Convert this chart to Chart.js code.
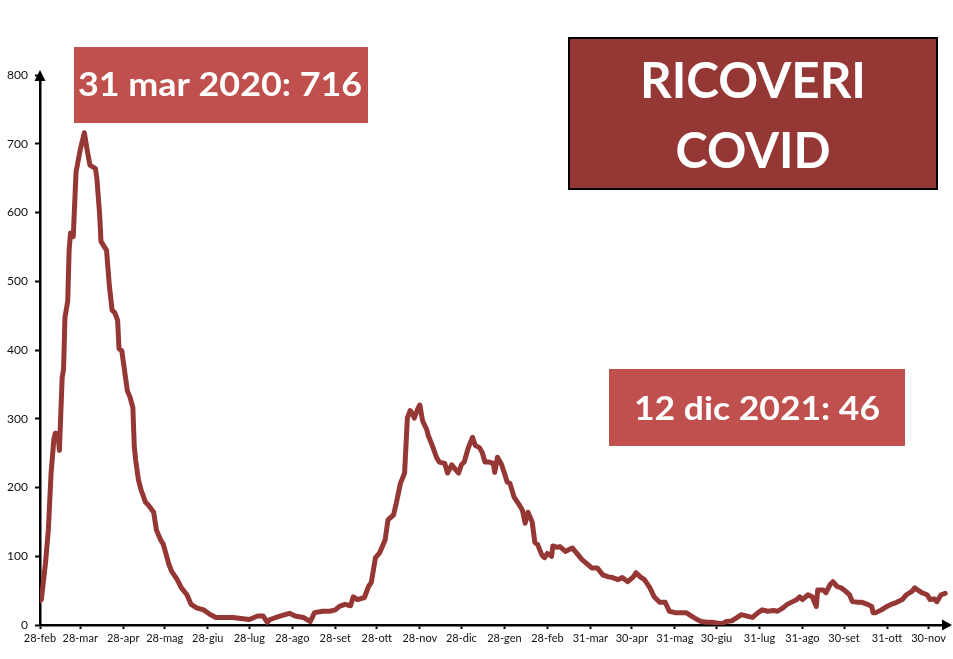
<!DOCTYPE html>
<html lang="it">
<head>
<meta charset="utf-8">
<title>Ricoveri COVID</title>
<script src="https://cdn.jsdelivr.net/npm/chart.js@4.4.0/dist/chart.umd.min.js"></script>
<style>
    html, body { margin: 0; padding: 0; background: #ffffff; }
    #ricoveriChart { display: block; }
</style>
</head>
<body>
<canvas id="ricoveriChart" width="953" height="659"></canvas>
<script>
// giorni dal 28 feb 2020
const giorni = [
    0, 1, 4, 6, 8, 10, 11, 13, 14, 16,
    17, 18, 20, 21, 22, 24, 26, 29, 32, 34,
    36, 40, 41, 43, 44, 48, 50, 52, 54, 56,
    57, 59, 63, 65, 67, 68, 69, 71, 73, 76,
    78, 82, 84, 87, 89, 93, 95, 99, 102, 106,
    109, 113, 118, 123, 127, 130, 139, 151, 157, 161,
    164, 166, 173, 180, 184, 190, 195, 198, 204, 209,
    213, 216, 220, 224, 226, 229, 234, 237, 239, 242,
    245, 249, 251, 255, 257, 260, 263, 265, 267, 269,
    270, 272, 274, 276, 279, 280, 283, 286, 288, 292,
    294, 297, 299, 302, 304, 306, 309, 312, 314, 317,
    319, 321, 324, 327, 328, 330, 333, 335, 337, 339,
    342, 345, 348, 350, 352, 355, 357, 359, 362, 364,
    366, 369, 370, 373, 375, 379, 381, 384, 387, 391,
    394, 398, 402, 404, 406, 410, 413, 417, 420, 424,
    428, 430, 433, 436, 440, 443, 447, 451, 454, 458,
    463, 466, 470, 474, 477, 481, 485, 488, 492, 495,
    499, 503, 506, 510, 514, 518, 521, 525, 529, 532,
    536, 539, 543, 546, 548, 550, 554, 557, 560, 561,
    565, 567, 570, 572, 575, 578, 580, 584, 586, 590,
    593, 597, 600, 601, 603, 607, 611, 614, 618, 622,
    625, 629, 631, 633, 636, 640, 642, 645, 647, 650,
    653
];

const ricoveri = [
    35, 37, 91, 138, 221, 270, 279, 278, 254, 360,
    372, 447, 471, 545, 570, 565, 659, 691, 716, 691,
    669, 664, 650, 598, 558, 545, 494, 458, 454, 443,
    402, 399, 341, 331, 316, 260, 240, 211, 196, 179,
    175, 164, 138, 124, 117, 88, 78, 66, 54, 44,
    30, 25, 22, 15, 11, 11, 11, 8, 13, 13,
    4, 8, 13, 17, 13, 11, 5, 18, 20, 20,
    22, 27, 30, 28, 41, 37, 40, 56, 62, 98,
    105, 124, 153, 160, 177, 206, 221, 301, 312, 306,
    301, 312, 320, 297, 284, 276, 261, 244, 237, 235,
    221, 233, 228, 221, 233, 237, 258, 273, 261, 258,
    251, 237, 237, 235, 222, 244, 233, 221, 208, 206,
    186, 177, 167, 148, 164, 150, 120, 117, 102, 98,
    104, 100, 115, 113, 114, 107, 109, 112, 105, 95,
    90, 83, 83, 78, 73, 70, 69, 66, 69, 63,
    70, 76, 70, 66, 54, 41, 33, 33, 20, 18,
    18, 18, 13, 8, 5, 4, 4, 3, 2, 5,
    6, 11, 15, 13, 11, 18, 22, 20, 21, 20,
    25, 30, 34, 37, 41, 37, 44, 41, 27, 51,
    51, 47, 59, 63, 56, 54, 51, 44, 34, 33,
    33, 30, 27, 18, 18, 22, 27, 30, 33, 37,
    44, 49, 54, 51, 47, 44, 37, 38, 34, 44,
    46
];

const tickDate = [
    '2020-02-28', '2020-03-28', '2020-04-28', '2020-05-28', '2020-06-28', '2020-07-28',
    '2020-08-28', '2020-09-28', '2020-10-28', '2020-11-28', '2020-12-28', '2021-01-28',
    '2021-02-28', '2021-03-31', '2021-04-30', '2021-05-31', '2021-06-30', '2021-07-31',
    '2021-08-31', '2021-09-30', '2021-10-31', '2021-11-30'
];
const tickLabels = [
    '28-feb', '28-mar', '28-apr', '28-mag', '28-giu', '28-lug',
    '28-ago', '28-set', '28-ott', '28-nov', '28-dic', '28-gen',
    '28-feb', '31-mar', '30-apr', '31-mag', '30-giu', '31-lug',
    '31-ago', '30-set', '31-ott', '30-nov'
];

const titolo = ['RICOVERI', 'COVID'];
const etichettaPicco = '31 mar 2020: 716';
const etichettaUltimo = '12 dic 2021: 46';

const FONT = "Lato, 'Liberation Sans', sans-serif";

function giorniDa(dateStr) {
    const start = Date.UTC(2020, 1, 28);
    const p = dateStr.split('-').map(Number);
    return Math.round((Date.UTC(p[0], p[1] - 1, p[2]) - start) / 86400000);
}
const tickGiorni = tickDate.map(giorniDa);

/**
 * Draw a text line with a given cap height, squeezed to a target width
 */
function fitText(ctx, text, cx, baseline, targetW, capH) {
    const size = capH / 0.72;
    ctx.font = 'bold ' + size.toFixed(1) + 'px ' + FONT;
    const w = ctx.measureText(text).width;
    ctx.save();
    ctx.translate(cx, baseline);
    ctx.scale(targetW / w, 1);
    ctx.textAlign = 'center';
    ctx.textBaseline = 'alphabetic';
    ctx.fillText(text, 0, 0);
    ctx.restore();
}

const overlayPlugin = {
    id: 'overlay',
    afterDraw(chart) {
        const ctx = chart.ctx;
        const area = chart.chartArea;
        ctx.save();

        // axis arrows
        ctx.fillStyle = '#000';
        ctx.beginPath();
        ctx.moveTo(area.left, area.top - 5);
        ctx.lineTo(area.left - 5.5, area.top + 6);
        ctx.lineTo(area.left + 5.5, area.top + 6);
        ctx.closePath();
        ctx.fill();

        ctx.beginPath();
        ctx.moveTo(area.right + 4, area.bottom);
        ctx.lineTo(area.right - 6, area.bottom - 5.5);
        ctx.lineTo(area.right - 6, area.bottom + 5.5);
        ctx.closePath();
        ctx.fill();

        // peak label
        ctx.fillStyle = '#c0504d';
        ctx.fillRect(74, 47, 294, 76);
        ctx.fillStyle = '#ffffff';
        fitText(ctx, etichettaPicco, 220, 96, 284, 23);

        // title box
        ctx.fillStyle = '#953735';
        ctx.fillRect(569, 38, 368, 151);
        ctx.strokeStyle = '#000';
        ctx.lineWidth = 2;
        ctx.strokeRect(569, 38, 368, 151);
        ctx.fillStyle = '#ffffff';
        fitText(ctx, titolo[0], 753, 98, 226, 36);
        fitText(ctx, titolo[1], 753, 168, 155, 36);

        // last value label
        ctx.fillStyle = '#c0504d';
        ctx.fillRect(609, 369, 296, 77);
        ctx.fillStyle = '#ffffff';
        fitText(ctx, etichettaUltimo, 757, 420, 246, 23);

        ctx.restore();
    }
};

document.addEventListener('DOMContentLoaded', function() {
    const ctx = document.getElementById('ricoveriChart').getContext('2d');
    const punti = giorni.map((g, i) => ({ x: g, y: ricoveri[i] }));

    new Chart(ctx, {
        type: 'line',
        data: {
            datasets: [{
                label: 'Ricoveri COVID',
                data: punti,
                borderColor: '#953735',
                borderWidth: 5,
                pointRadius: 0,
                tension: 0,
                fill: false,
                borderJoinStyle: 'round',
                borderCapStyle: 'round'
            }]
        },
        options: {
            responsive: false,
            animation: false,
            events: [],
            layout: {
                padding: { top: 75, right: 5, bottom: 0, left: 0 }
            },
            plugins: {
                legend: { display: false },
                tooltip: { enabled: false }
            },
            scales: {
                x: {
                    type: 'linear',
                    min: 0,
                    max: 655,
                    afterBuildTicks: function(scale) {
                        scale.ticks = tickGiorni.map(v => ({ value: v }));
                    },
                    afterFit: function(scale) {
                        scale.height = 34;
                    },
                    border: { display: true, color: '#000', width: 2.5 },
                    grid: {
                        display: true,
                        drawOnChartArea: false,
                        drawTicks: true,
                        tickLength: 4,
                        tickWidth: 2,
                        tickColor: '#000'
                    },
                    ticks: {
                        autoSkip: false,
                        maxRotation: 0,
                        padding: 3,
                        color: '#111',
                        font: { family: FONT, size: 11 },
                        callback: function(value, index) {
                            return tickLabels[index];
                        }
                    }
                },
                y: {
                    min: 0,
                    max: 800,
                    afterFit: function(scale) {
                        scale.width = 40;
                    },
                    border: { display: true, color: '#000', width: 2.5 },
                    grid: {
                        display: true,
                        drawOnChartArea: false,
                        drawTicks: true,
                        tickLength: 5,
                        tickWidth: 2,
                        tickColor: '#000'
                    },
                    ticks: {
                        stepSize: 100,
                        padding: 7,
                        color: '#111',
                        font: { family: FONT, size: 12 }
                    }
                }
            }
        },
        plugins: [overlayPlugin]
    });
});
</script>
</body>
</html>
